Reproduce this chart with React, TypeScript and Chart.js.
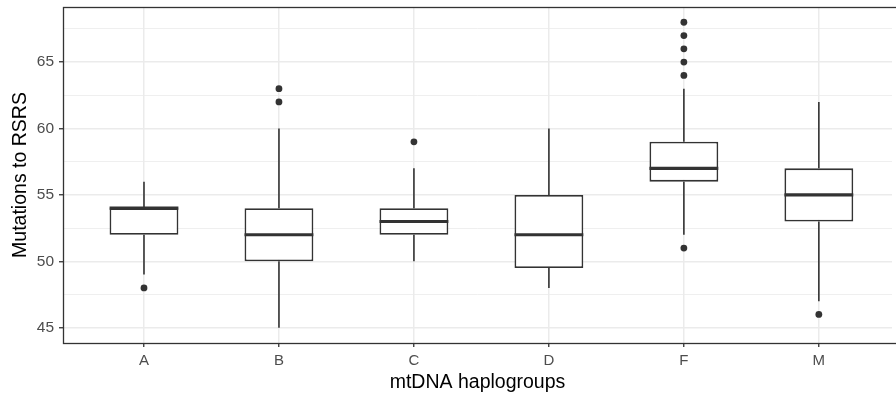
import React, { useEffect, useRef } from 'react';
import { Chart, registerables } from 'chart.js';

Chart.register(...registerables);

// ---- data ----
const groups = ['A', 'B', 'C', 'D', 'F', 'M'];
const lowerWhisker = [49, 45, 50, 48, 52, 47];
const q1 = [52, 50, 52, 49.5, 56, 53];
const median = [54, 52, 53, 52, 57, 55];
const q3 = [54, 54, 54, 55, 59, 57];
const upperWhisker = [56, 60, 57, 60, 63, 62];
const outlierGroup = ['A', 'B', 'B', 'C', 'F', 'F', 'F', 'F', 'F', 'F', 'M'];
const outlierValue = [48, 62, 63, 59, 51, 64, 65, 66, 67, 68, 46];
const yMajorTicks = [45, 50, 55, 60, 65];
const yMinorTicks = [47.5, 52.5, 57.5, 62.5, 67.5];

const INK = '#333333';
const GRID = '#ebebeb';
const FONT = '"Liberation Sans", Arial, Helvetica, sans-serif';

export default function App() {
  const ref = useRef<HTMLCanvasElement>(null);

  useEffect(() => {
    const canvas = ref.current;
    if (!canvas) return;
    const idx = (g: string) => groups.indexOf(g) + 1;

    const boxParts = {
      id: 'boxParts',
      beforeDatasetsDraw(chart: any) {
        const { ctx, scales } = chart;
        const x = scales.x, y = scales.y;
        ctx.save();
        ctx.strokeStyle = INK;
        ctx.lineWidth = 1.6;
        groups.forEach((_, i) => {
          const px = x.getPixelForValue(i + 1);
          ctx.beginPath();
          ctx.moveTo(px, y.getPixelForValue(q3[i]));
          ctx.lineTo(px, y.getPixelForValue(upperWhisker[i]));
          ctx.moveTo(px, y.getPixelForValue(q1[i]));
          ctx.lineTo(px, y.getPixelForValue(lowerWhisker[i]));
          ctx.stroke();
        });
        ctx.restore();
      },
      afterDatasetsDraw(chart: any) {
        const { ctx, scales } = chart;
        const y = scales.y;
        const meta = chart.getDatasetMeta(0);
        ctx.save();
        ctx.strokeStyle = INK;
        ctx.lineWidth = 3.2;
        meta.data.forEach((bar: any, i: number) => {
          const p = bar.getProps(['x', 'width'], true);
          const py = y.getPixelForValue(median[i]);
          ctx.beginPath();
          ctx.moveTo(p.x - p.width / 2, py);
          ctx.lineTo(p.x + p.width / 2, py);
          ctx.stroke();
        });
        ctx.restore();
      },
      afterDraw(chart: any) {
        const { ctx, chartArea } = chart;
        ctx.save();
        ctx.strokeStyle = INK;
        ctx.lineWidth = 1.3;
        ctx.strokeRect(chartArea.left + 0.5, chartArea.top + 0.5,
          chartArea.right - chartArea.left + 20, chartArea.bottom - chartArea.top);
        ctx.restore();
      },
    };

    const chart = new Chart(canvas, {
      type: 'bar',
      data: {
        datasets: [
          {
            type: 'bar',
            data: groups.map((g, i) => ({ x: i + 1, y: [q1[i], q3[i]] })) as any,
            backgroundColor: '#ffffff',
            borderColor: INK,
            borderWidth: 1.8,
            borderSkipped: false,
            barPercentage: 0.51,
            categoryPercentage: 1,
            order: 2,
          } as any,
          {
            type: 'scatter',
            data: outlierGroup.map((g, i) => ({ x: idx(g), y: outlierValue[i] })),
            backgroundColor: INK,
            borderWidth: 0,
            pointRadius: 3.4,
            order: 1,
          } as any,
        ],
      },
      options: {
        responsive: false,
        animation: false,
        devicePixelRatio: 1,
        layout: { padding: { top: 7, right: 0, left: 0, bottom: 0 } },
        plugins: { legend: { display: false }, tooltip: { enabled: false } },
        scales: {
          x: {
            type: 'linear',
            min: 0.4,
            max: 6.542,
            offset: false,
            afterBuildTicks: (s: any) => { s.ticks = groups.map((_, i) => ({ value: i + 1 })); },
            afterFit: (s: any) => { s.height = 58; s.paddingLeft = 0; s.paddingRight = 0; },
            ticks: {
              autoSkip: false,
              maxRotation: 0,
              padding: 5,
              color: '#4d4d4d',
              font: { family: FONT, size: 15 },
              callback: (v: any) => groups[Number(v) - 1] ?? '',
            },
            grid: { offset: false, color: GRID, lineWidth: 1.5, tickColor: INK, tickLength: 4, tickWidth: 1.3 },
            border: { display: false },
            title: {
              display: true,
              text: 'mtDNA haplogroups',
              color: '#000000',
              font: { family: FONT, size: 19.5, lineHeight: 1.2 },
              padding: { top: 0, bottom: 7 },
            },
          },
          y: {
            type: 'linear',
            min: 43.85,
            max: 69.15,
            afterBuildTicks: (s: any) => {
              s.ticks = [...yMajorTicks, ...yMinorTicks].sort((a, b) => a - b).map((v) => ({ value: v }));
            },
            afterFit: (s: any) => { s.width = 63; s.paddingTop = 0; s.paddingBottom = 0; },
            ticks: {
              autoSkip: false,
              padding: 5,
              color: '#4d4d4d',
              font: { family: FONT, size: 15.5 },
              callback: (v: any) => (yMajorTicks.includes(Number(v)) ? String(v) : ''),
            },
            grid: {
              color: GRID,
              lineWidth: (c: any) => (yMajorTicks.includes(c.tick?.value) ? 1.5 : 0.8),
              tickColor: (c: any) => (yMajorTicks.includes(c.tick?.value) ? INK : 'rgba(0,0,0,0)'),
              tickLength: 4,
              tickWidth: 1.3,
            },
            border: { display: false },
            title: {
              display: true,
              text: 'Mutations to RSRS',
              color: '#000000',
              font: { family: FONT, size: 19.5, lineHeight: 1.2 },
              padding: { top: 9, bottom: 0 },
            },
          },
        },
      },
      plugins: [boxParts],
    } as any);

    return () => chart.destroy();
  }, []);

  return (
    <div style={{ position: 'absolute', left: 0, top: 0, width: 896, height: 401, background: '#fff' }}>
      <canvas ref={ref} width={896} height={401} style={{ display: 'block' }} />
    </div>
  );
}
